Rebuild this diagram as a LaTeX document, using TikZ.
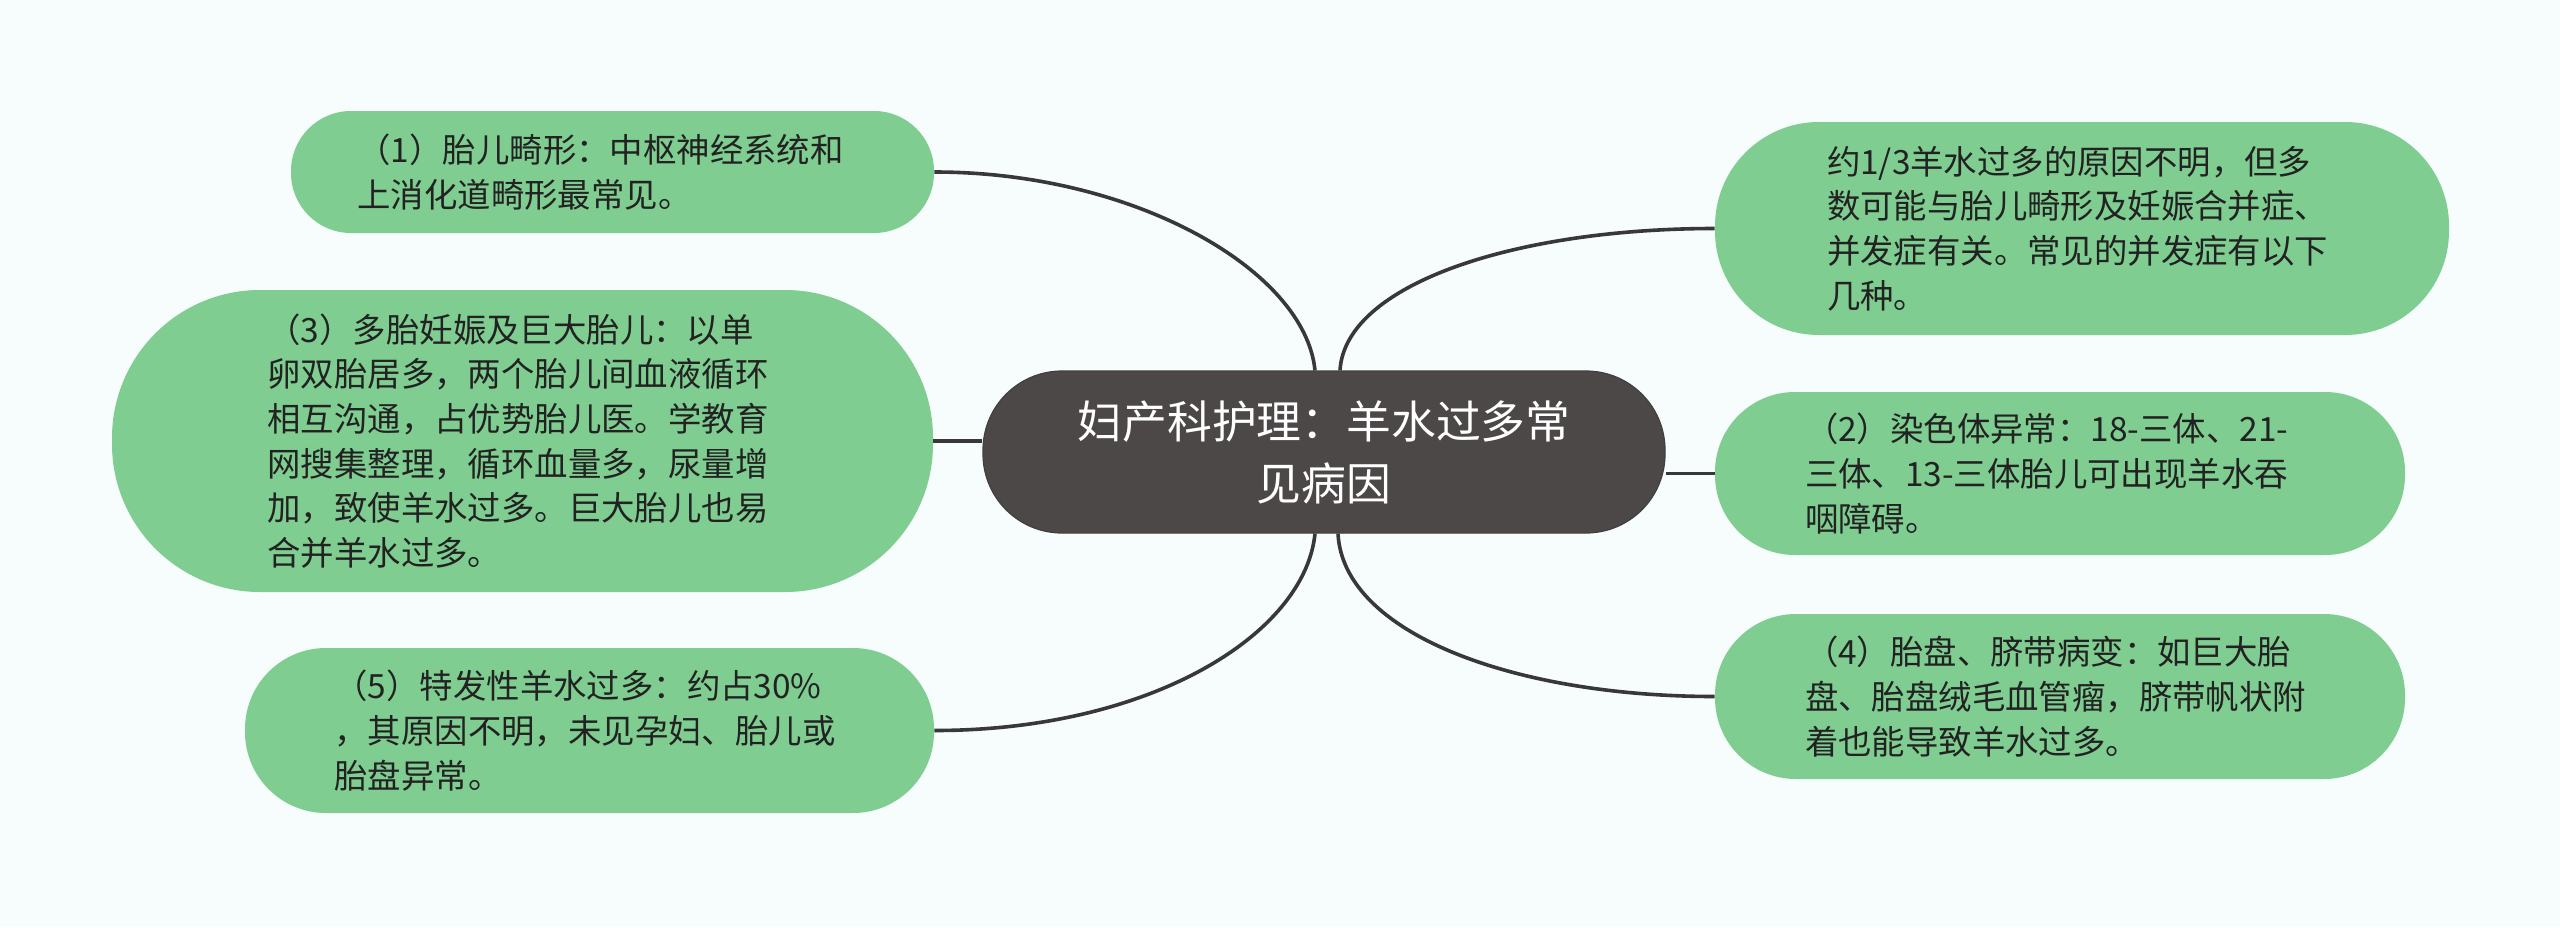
\documentclass[tikz,border=0pt]{standalone}
\usepackage{fontspec}
\newfontfamily\cjk{Noto Sans CJK SC}
\definecolor{leafgreen}{HTML}{7FCD91}
\definecolor{hubgray}{HTML}{4D4848}
\definecolor{linkgray}{HTML}{383838}
\definecolor{paper}{HTML}{F7FCFC}
\definecolor{inkdark}{HTML}{222222}

\begin{document}
\begin{tikzpicture}[x=0.5pt, y=-0.5pt,
  leaf/.style={fill=leafgreen, text=inkdark, align=left, text width=255pt, inner sep=0pt,
    font=\cjk\fontsize{16.7pt}{22.3pt}\selectfont},
  hub/.style={fill=hubgray, draw=black!75, line width=0.6pt, text=white, align=center,
    font=\cjk\fontsize{22.4pt}{31pt}\selectfont},
  link/.style={draw=linkgray, line width=1.8pt}]
  % background
  \fill[paper] (0,0) rectangle (2560,927);
  \useasboundingbox (0,0) rectangle (2560,927);

  % central topic
  \node[hub, minimum width=341pt, minimum height=81pt, rounded corners=39.5pt] (hub) at (1324,452)
    {妇产科护理：羊水过多常\\见病因};

  % left branches
  \node[leaf, minimum width=321.5pt, minimum height=61pt, rounded corners=30pt] (fetal) at (612.5,172)
    {（1）胎儿畸形：中枢神经系统和\\上消化道畸形最常见。};
  \node[leaf, minimum width=410.5pt, minimum height=151pt, rounded corners=74pt] (twin) at (522.5,441)
    {（3）多胎妊娠及巨大胎儿：以单\\卵双胎居多，两个胎儿间血液循环\\相互沟通，占优势胎儿医。学教育\\网搜集整理，循环血量多，尿量增\\加，致使羊水过多。巨大胎儿也易\\合并羊水过多。};
  \node[leaf, minimum width=344.5pt, minimum height=82.5pt, rounded corners=40.5pt] (idio) at (589.5,730.5)
    {（5）特发性羊水过多：约占30\%\\，其原因不明，未见孕妇、胎儿或\\胎盘异常。};

  % right branches
  \node[leaf, minimum width=367pt, minimum height=106.5pt, rounded corners=52pt] (intro) at (2082,228.5)
    {约1/3羊水过多的原因不明，但多\\数可能与胎儿畸形及妊娠合并症、\\并发症有关。常见的并发症有以下\\几种。};
  \node[leaf, minimum width=345pt, minimum height=81.5pt, rounded corners=40pt] (chromo) at (2060,473.5)
    {（2）染色体异常：18-三体、21-\\三体、13-三体胎儿可出现羊水吞\\咽障碍。};
  \node[leaf, minimum width=345pt, minimum height=82.5pt, rounded corners=40.5pt] (placenta) at (2060,696.5)
    {（4）胎盘、脐带病变：如巨大胎\\盘、胎盘绒毛血管瘤，脐带帆状附\\着也能导致羊水过多。};

  % links
  \draw[link] (fetal.east) .. controls +(200,0) and +(-10,-100) .. ([xshift=-4.5pt]hub.north);
  \draw[link] (twin.east) -- (twin.east -| hub.west);
  \draw[link] (idio.east) .. controls +(217,0) and +(-10,100) .. ([xshift=-4.5pt]hub.south);
  \draw[link] (intro.west) .. controls +(-200,0) and +(5,-86) .. ([xshift=8pt]hub.north);
  \draw[link] (chromo.west) -- (chromo.west -| hub.east);
  \draw[link] (placenta.west) .. controls +(-200,0) and +(5,100) .. ([xshift=7pt]hub.south);
\end{tikzpicture}
\end{document}
